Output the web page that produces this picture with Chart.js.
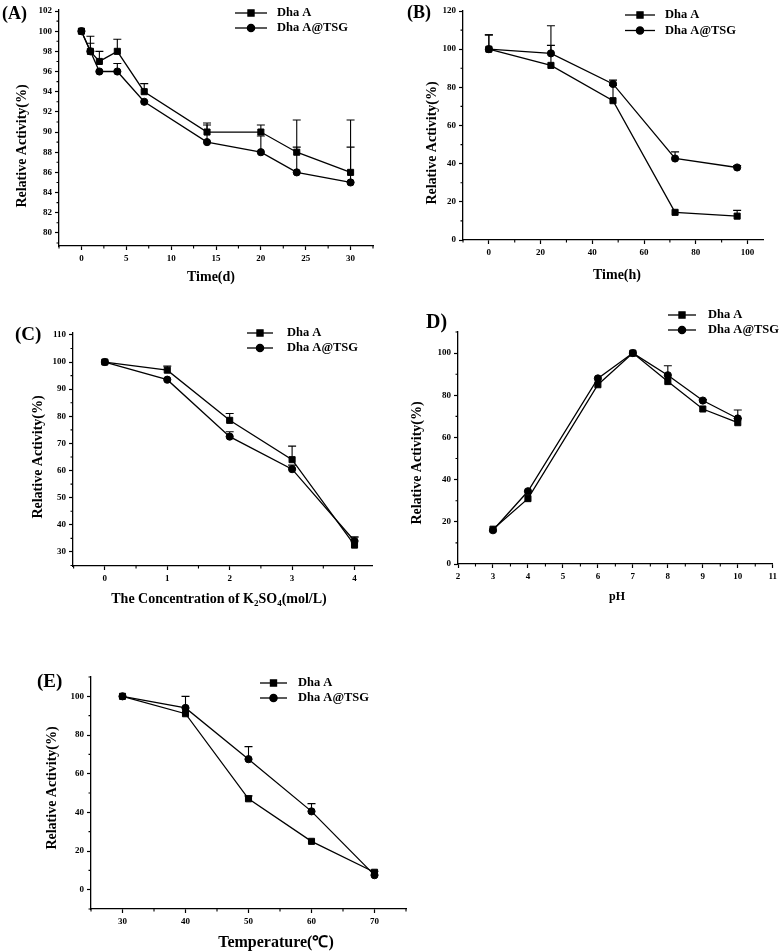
<!DOCTYPE html>
<html>
<head>
<meta charset="utf-8">
<script src="https://cdn.jsdelivr.net/npm/chart.js@4.4.1/dist/chart.umd.min.js"></script>
<style>
  body { margin: 0; background: #fff; width: 780px; height: 952px; position: relative; overflow: hidden; }
  canvas { position: absolute; }
</style>
</head>
<body>
<canvas id="chartA" width="390" height="300" style="left:0;top:0"></canvas>
<canvas id="chartB" width="390" height="300" style="left:390px;top:0"></canvas>
<canvas id="chartC" width="390" height="320" style="left:0;top:300px"></canvas>
<canvas id="chartD" width="390" height="320" style="left:390px;top:300px"></canvas>
<canvas id="chartE" width="430" height="332" style="left:0;top:620px"></canvas>
<script>
const seriesNames = ["Dha A", "Dha A@TSG"];

// (A) storage time, days
const daysA = [0, 1, 2, 4, 7, 14, 20, 24, 30];
const dhaA_A = [100, 98, 97, 98, 94, 90, 90, 88, 86];
const dhaA_A_err = [0, 1.5, 1, 1.2, 0.8, 0.9, 0.7, 3.2, 5.2];
const tsg_A = [100, 98, 96, 96, 93, 89, 88, 86, 85];
const tsg_A_err = [0, 0.8, 0, 0.8, 0, 1.7, 1.6, 2.5, 3.5];
const xTicksA = [0, 5, 10, 15, 20, 25, 30];
const yTicksA = [80, 82, 84, 86, 88, 90, 92, 94, 96, 98, 100, 102];

// (B) time, hours
const hoursB = [0, 24, 48, 72, 96];
const dhaA_B = [100, 91.5, 73, 14.5, 12.5];
const dhaA_B_err = [7.5, 10.5, 8, 0, 3];
const tsg_B = [100, 97.8, 81.8, 42.7, 38];
const tsg_B_err = [7.5, 14.5, 2, 3.5, 1];
const xTicksB = [0, 20, 40, 60, 80, 100];
const yTicksB = [0, 20, 40, 60, 80, 100, 120];

// (C) K2SO4 concentration, mol/L
const concC = [0, 1, 2, 3, 4];
const dhaA_C = [100, 97, 78.5, 64, 32.5];
const dhaA_C_err = [0, 1.5, 2.5, 5, 3];
const tsg_C = [100, 93.5, 72.5, 60.5, 34];
const tsg_C_err = [0, 0, 1.8, 1.5, 1.5];
const xTicksC = [0, 1, 2, 3, 4];
const yTicksC = [30, 40, 50, 60, 70, 80, 90, 100, 110];

// (D) pH
const phD = [3, 4, 6, 7, 8, 9, 10];
const dhaA_D = [16.5, 31, 85, 100, 86.5, 73.5, 67];
const dhaA_D_err = [0, 0, 0, 0, 0, 0, 2];
const tsg_D = [16, 34.5, 88, 100, 89.5, 77.5, 69];
const tsg_D_err = [0, 0, 0, 0, 4.5, 0.5, 4];
const xTicksD = [2, 3, 4, 5, 6, 7, 8, 9, 10, 11];
const yTicksD = [0, 20, 40, 60, 80, 100];

// (E) temperature
const tempE = [30, 40, 50, 60, 70];
const dhaA_E = [100, 91, 47, 25, 9];
const dhaA_E_err = [0, 0, 1.5, 0, 0.5];
const tsg_E = [100, 94, 67.5, 40.5, 7.5];
const tsg_E_err = [0, 6, 6.5, 4, 0];
const xTicksE = [30, 40, 50, 60, 70];
const yTicksE = [0, 20, 40, 60, 80, 100];

const serif = "'Liberation Serif', 'Times New Roman', serif";
const markerStyles = ["rect", "circle"];
const markerRadius = [4.3, 3.6];

// midpoints between major ticks (plus one step outside each end) that fall in range
const minorValues = (ticks, min, max) => {
  const step = ticks[1] - ticks[0];
  const out = [];
  for (let v = ticks[0] - step / 2; v <= max + 1e-9; v += step) {
    if (v >= min - 1e-9) out.push(v);
  }
  return out;
};

const errorBars = {
  id: "errorBars",
  afterDatasetsDraw(chart) {
    const { ctx, scales } = chart;
    ctx.save();
    ctx.strokeStyle = "#000";
    ctx.lineWidth = 1.1;
    chart.data.datasets.forEach((ds) => {
      ds.data.forEach((p, j) => {
        const err = ds.errors[j];
        if (!err) return;
        const px = scales.x.getPixelForValue(p.x);
        const y0 = scales.y.getPixelForValue(p.y);
        const y1 = scales.y.getPixelForValue(p.y + err);
        ctx.beginPath();
        ctx.moveTo(px, y0);
        ctx.lineTo(px, y1);
        ctx.moveTo(px - 4, y1);
        ctx.lineTo(px + 4, y1);
        ctx.stroke();
      });
    });
    ctx.restore();
  },
};

const drawText = (ctx, parts, x, y, size, rotate) => {
  // parts: [[text, isSub], ...]
  ctx.save();
  ctx.translate(x, y);
  if (rotate) ctx.rotate(-Math.PI / 2);
  const fontOf = (sub) => `bold ${sub ? Math.round(size * 0.65) : size}px ${serif}`;
  let total = 0;
  parts.forEach(([t, sub]) => { ctx.font = fontOf(sub); total += ctx.measureText(t).width; });
  let cx = -total / 2;
  ctx.textBaseline = "middle";
  ctx.textAlign = "left";
  parts.forEach(([t, sub]) => {
    ctx.font = fontOf(sub);
    ctx.fillText(t, cx, sub ? size * 0.3 : 0);
    cx += ctx.measureText(t).width;
  });
  ctx.restore();
};

const decor = {
  id: "decor",
  afterDraw(chart, args, o) {
    const { ctx, scales } = chart;
    ctx.save();
    ctx.fillStyle = "#000";
    ctx.strokeStyle = "#000";

    // minor ticks
    ctx.lineWidth = 1.1;
    const xs = scales.x, ys = scales.y;
    ctx.beginPath();
    minorValues(o.xTicks, xs.min, xs.max).forEach((v) => {
      const px = xs.getPixelForValue(v);
      ctx.moveTo(px, ys.bottom);
      ctx.lineTo(px, ys.bottom + 2.5);
    });
    minorValues(o.yTicks, ys.min, ys.max).forEach((v) => {
      const py = ys.getPixelForValue(v);
      ctx.moveTo(xs.left, py);
      ctx.lineTo(xs.left - 2.5, py);
    });
    ctx.stroke();

    // panel letter
    ctx.font = `bold ${o.labelSize}px ${serif}`;
    ctx.textBaseline = "middle";
    ctx.textAlign = "left";
    ctx.fillText(o.label, o.labelX, o.labelY);

    // axis titles
    drawText(ctx, [["Relative Activity(%)", false]], o.yTitleX, o.yTitleY, 14, true);
    drawText(ctx, o.xTitle, o.xTitleX, o.xTitleY, o.xTitleSize, false);

    // legend
    const lg = o.legend;
    seriesNames.forEach((name, i) => {
      const ly = lg.y + i * lg.dy;
      ctx.lineWidth = 1.3;
      ctx.beginPath();
      ctx.moveTo(lg.x0, ly);
      ctx.lineTo(lg.x1, ly);
      ctx.stroke();
      Chart.helpers.drawPoint(ctx, { pointStyle: markerStyles[i], radius: markerRadius[i], rotation: 0, borderWidth: 1 }, (lg.x0 + lg.x1) / 2, ly);
      ctx.fill();
      ctx.font = `bold 12.5px ${serif}`;
      ctx.textBaseline = "middle";
      ctx.fillText(name, lg.tx, ly);
    });
    ctx.restore();
  },
};

const makePanel = (id, p) => {
  const canvas = document.getElementById(id);
  const W = canvas.width, H = canvas.height;
  const tickFont = { family: serif, size: 9, weight: "bold" };
  const axisCommon = {
    type: "linear",
    grid: { drawOnChartArea: false, drawTicks: true, tickLength: 4, tickColor: "#000", tickWidth: 1.2 },
    border: { color: "#000", width: 1.3 },
    ticks: { color: "#000", font: tickFont, padding: 3, maxRotation: 0, autoSkip: false },
  };
  const series = [p.dhaA, p.tsg].map((vals, i) => ({
    label: seriesNames[i],
    data: vals.map((v, j) => ({ x: p.x[j], y: v })),
    errors: [p.dhaAErr, p.tsgErr][i],
    borderColor: "#000",
    backgroundColor: "#000",
    borderWidth: 1.3,
    pointStyle: markerStyles[i],
    pointRadius: markerRadius[i],
    pointBackgroundColor: "#000",
    pointBorderColor: "#000",
    pointBorderWidth: 1,
    tension: 0,
  }));
  return new Chart(canvas, {
    type: "line",
    data: { datasets: series },
    options: {
      responsive: false,
      animation: false,
      events: [],
      layout: { padding: { top: p.area.t, right: W - p.area.r, left: 0, bottom: 0 } },
      plugins: {
        legend: { display: false },
        tooltip: { enabled: false },
        decor: {
          xTicks: p.xTicks, yTicks: p.yTicks,
          label: p.label, labelX: p.labelX, labelY: p.labelY, labelSize: p.labelSize,
          yTitleX: p.yTitle[0], yTitleY: p.yTitle[1],
          xTitle: p.xTitle, xTitleX: p.xTitlePos[0], xTitleY: p.xTitlePos[1], xTitleSize: p.xTitleSize,
          legend: p.legend,
        },
      },
      scales: {
        x: {
          ...axisCommon,
          min: p.xRange[0], max: p.xRange[1],
          afterBuildTicks: (s) => { s.ticks = p.xTicks.map((v) => ({ value: v })); },
          afterFit: (s) => { s.height = H - p.area.b; },
        },
        y: {
          ...axisCommon,
          min: p.yRange[0], max: p.yRange[1],
          afterBuildTicks: (s) => { s.ticks = p.yTicks.map((v) => ({ value: v })); },
          afterFit: (s) => { s.width = p.area.l; },
        },
      },
    },
    plugins: [errorBars, decor],
  });
};

makePanel("chartA", {
  x: daysA, dhaA: dhaA_A, dhaAErr: dhaA_A_err, tsg: tsg_A, tsgErr: tsg_A_err,
  xTicks: xTicksA, yTicks: yTicksA, xRange: [-2.5, 32.5], yRange: [78.7, 102.1],
  area: { l: 59, t: 10, r: 373, b: 246 },
  label: "(A)", labelX: 2, labelY: 14, labelSize: 18,
  yTitle: [22, 146], xTitle: [["Time(d)", false]], xTitlePos: [211, 277], xTitleSize: 14,
  legend: { x0: 235, x1: 267, tx: 277, y: 13, dy: 15 },
});

makePanel("chartB", {
  x: hoursB, dhaA: dhaA_B, dhaAErr: dhaA_B_err, tsg: tsg_B, tsgErr: tsg_B_err,
  xTicks: xTicksB, yTicks: yTicksB, xRange: [-10, 106], yRange: [0, 120],
  area: { l: 73, t: 11, r: 373, b: 240 },
  label: "(B)", labelX: 17, labelY: 13, labelSize: 18,
  yTitle: [42, 143], xTitle: [["Time(h)", false]], xTitlePos: [227, 275], xTitleSize: 14,
  legend: { x0: 235, x1: 265, tx: 275, y: 15, dy: 15.5 },
});

makePanel("chartC", {
  x: concC, dhaA: dhaA_C, dhaAErr: dhaA_C_err, tsg: tsg_C, tsgErr: tsg_C_err,
  xTicks: xTicksC, yTicks: yTicksC, xRange: [-0.51, 4.28], yRange: [24.8, 110.7],
  area: { l: 73, t: 33, r: 372, b: 266 },
  label: "(C)", labelX: 15, labelY: 35, labelSize: 19,
  yTitle: [38, 157],
  xTitle: [["The Concentration of K", false], ["2", true], ["SO", false], ["4", true], ["(mol/L)", false]],
  xTitlePos: [219, 299], xTitleSize: 14,
  legend: { x0: 247, x1: 273, tx: 287, y: 33, dy: 15 },
});

makePanel("chartD", {
  x: phD, dhaA: dhaA_D, dhaAErr: dhaA_D_err, tsg: tsg_D, tsgErr: tsg_D_err,
  xTicks: xTicksD, yTicks: yTicksD, xRange: [2, 11], yRange: [0, 110],
  area: { l: 68, t: 32, r: 383, b: 264 },
  label: "D)", labelX: 36, labelY: 23, labelSize: 20,
  yTitle: [27, 163], xTitle: [["pH", false]], xTitlePos: [227, 297], xTitleSize: 12,
  legend: { x0: 278, x1: 306, tx: 318, y: 15, dy: 15 },
});

makePanel("chartE", {
  x: tempE, dhaA: dhaA_E, dhaAErr: dhaA_E_err, tsg: tsg_E, tsgErr: tsg_E_err,
  xTicks: xTicksE, yTicks: yTicksE, xRange: [25, 75], yRange: [-10, 110],
  area: { l: 91, t: 57, r: 406, b: 289 },
  label: "(E)", labelX: 37, labelY: 62, labelSize: 19,
  yTitle: [52, 168], xTitle: [["Temperature(\u2103)", false]], xTitlePos: [276, 323], xTitleSize: 16,
  legend: { x0: 260, x1: 287, tx: 298, y: 63, dy: 15 },
});
</script>
</body>
</html>
